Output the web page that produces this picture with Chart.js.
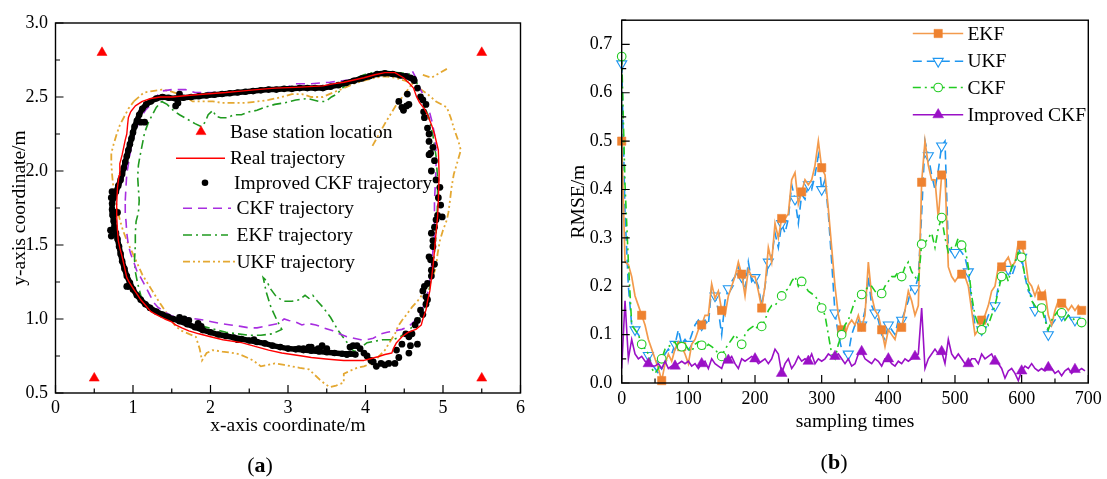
<!DOCTYPE html>
<html>
<head>
<meta charset="utf-8">
<title>Trajectories and RMSE of EKF, UKF, CKF and improved CKF</title>
<script src="https://cdn.jsdelivr.net/npm/chart.js@4.4.1/dist/chart.umd.min.js"></script>
<style>
  html, body { margin: 0; padding: 0; background: #ffffff; }
  #figure { position: relative; width: 1107px; height: 479px; overflow: hidden; background: #ffffff; }
  #panelA { position: absolute; left: 0; top: 0; }
  #panelB { position: absolute; left: 560px; top: 0; }
  .caption { position: absolute; width: 80px; text-align: center; font: 22px "Liberation Serif", serif; line-height: 24px; color: #000; }
</style>
</head>
<body>
<div id="figure">
  <canvas id="panelA" width="560" height="479"></canvas>
  <canvas id="panelB" width="547" height="479"></canvas>
  <div class="caption" style="left:220px; top:453px;">(<b>a</b>)</div>
  <div class="caption" style="left:794px; top:450px;">(<b>b</b>)</div>
</div>
<script>
// ===================== Panel (a): positioning trajectories =====================
const baseStations = [[0.6, 2.8], [5.5, 2.8], [0.5, 0.6], [5.5, 0.6]];

const realTrajectory = [
  [0.97,2.40],[1.03,2.44],[1.12,2.47],[1.23,2.49],[1.35,2.50],[1.50,2.50],[1.70,2.51],[1.94,2.52],
  [2.20,2.53],[2.39,2.54],[2.60,2.55],[2.83,2.56],[3.10,2.565],[3.45,2.575],[3.60,2.59],[3.72,2.60],
  [3.85,2.615],[3.98,2.63],[4.12,2.65],[4.25,2.665],[4.38,2.665],[4.49,2.63],[4.57,2.59],[4.62,2.56],
  [4.66,2.50],[4.70,2.46],[4.76,2.42],[4.80,2.38],[4.86,2.30],[4.89,2.25],[4.94,2.14],[4.95,1.98],
  [4.94,1.80],[4.93,1.69],[4.91,1.58],[4.89,1.46],[4.87,1.35],[4.85,1.27],[4.83,1.19],[4.80,1.12],
  [4.78,1.06],[4.74,1.00],[4.72,0.96],[4.65,0.93],[4.55,0.91],[4.47,0.88],[4.40,0.84],[4.36,0.80],
  [4.34,0.77],[4.25,0.76],[4.16,0.745],[4.05,0.73],[3.98,0.72],[3.85,0.72],[3.72,0.72],[3.60,0.725],
  [3.49,0.73],[3.30,0.74],[3.18,0.75],[3.05,0.76],[2.92,0.77],[2.75,0.79],[2.61,0.81],[2.40,0.84],
  [2.16,0.86],[2.00,0.88],[1.85,0.90],[1.72,0.92],[1.63,0.94],[1.55,0.96],[1.50,0.98],[1.41,1.00],
  [1.30,1.03],[1.23,1.05],[1.15,1.10],[1.10,1.13],[1.05,1.17],[1.01,1.20],[0.96,1.24],[0.92,1.28],
  [0.89,1.35],[0.86,1.42],[0.83,1.48],[0.81,1.53],[0.80,1.60],[0.79,1.69],[0.79,1.78],[0.80,1.89],
  [0.82,1.97],[0.83,2.05],[0.86,2.11],[0.88,2.16],[0.90,2.21],[0.92,2.25],[0.93,2.31],[0.94,2.36],
  [0.97,2.40]
];

// improved CKF estimates: the dense run of positions along the loop
const improvedRun = [
  [3.87,0.76],[3.80,0.765],[3.70,0.765],[3.60,0.77],[3.50,0.775],[3.40,0.78],[3.30,0.785],[3.20,0.79],
  [3.10,0.795],[3.00,0.80],[2.90,0.81],[2.80,0.82],[2.70,0.835],[2.60,0.845],[2.50,0.855],[2.40,0.865],
  [2.30,0.875],[2.20,0.885],[2.10,0.895],[2.00,0.91],[1.90,0.925],[1.80,0.945],[1.70,0.965],[1.60,0.985],
  [1.52,1.00],[1.45,1.015],[1.38,1.03],[1.30,1.05],[1.22,1.075],[1.16,1.10],[1.10,1.13],[1.05,1.16],
  [1.00,1.20],[0.96,1.245],[0.92,1.29],[0.89,1.34],[0.86,1.39],[0.84,1.44],[0.82,1.49],[0.80,1.54],
  [0.78,1.58],[0.76,1.62],[0.75,1.66],[0.74,1.70],[0.73,1.74],[0.73,1.78],[0.75,1.82],[0.78,1.86],
  [0.81,1.90],[0.84,1.94],[0.86,1.98],[0.88,2.02],[0.90,2.06],[0.92,2.10],[0.94,2.14],[0.96,2.18],
  [0.98,2.22],[1.00,2.26],[1.02,2.30],[1.05,2.34],[1.08,2.38],[1.12,2.42],[1.17,2.45],[1.23,2.47],
  [1.30,2.49],[1.38,2.50],[1.46,2.495],[1.55,2.49],[1.65,2.495],[1.75,2.50],[1.85,2.505],[1.95,2.51],
  [2.05,2.515],[2.15,2.52],[2.25,2.525],[2.35,2.53],[2.45,2.535],[2.55,2.54],[2.65,2.545],[2.75,2.55],
  [2.85,2.55],[2.95,2.555],[3.05,2.555],[3.15,2.56],[3.25,2.56],[3.35,2.56],[3.45,2.56],[3.55,2.57],
  [3.65,2.58],[3.75,2.595],[3.85,2.61],[3.95,2.625],[4.05,2.64],[4.15,2.655],[4.25,2.66],[4.35,2.655],
  [4.45,2.645],[4.52,2.64],[4.58,2.63],[4.63,2.61]
];

// improved CKF estimates: scattered positions (right side, corners, outliers)
const improvedScattered = [
  [4.43,2.47],[4.47,2.43],[4.49,2.41],[4.53,2.44],[4.56,2.45],[4.54,2.52],[4.62,2.62],[4.67,2.56],
  [4.71,2.50],[4.74,2.48],[4.78,2.45],[4.75,2.40],[4.76,2.36],[4.80,2.29],[4.82,2.25],[4.82,2.20],
  [4.87,2.16],[4.84,2.12],[4.82,2.11],[4.89,2.07],[4.85,2.00],[4.91,1.94],[4.96,1.89],[4.94,1.82],
  [4.97,1.77],[4.99,1.69],[4.93,1.70],[4.91,1.67],[4.89,1.62],[4.85,1.58],[4.87,1.53],[4.87,1.49],
  [4.82,1.42],[4.84,1.40],[4.89,1.37],[4.85,1.33],[4.85,1.29],[4.80,1.24],[4.76,1.22],[4.74,1.19],
  [4.78,1.15],[4.80,1.13],[4.78,1.10],[4.71,1.06],[4.74,1.03],[4.67,0.99],[4.64,0.96],[4.60,0.90],
  [4.56,0.88],[4.52,0.90],[4.67,0.83],[4.58,0.82],[4.56,0.77],[4.47,0.83],[4.43,0.74],[4.40,0.79],
  [4.38,0.70],[4.30,0.70],[4.25,0.69],[4.20,0.70],[4.14,0.68],[4.10,0.71],[4.07,0.72],[4.02,0.75],
  [3.98,0.77],[3.93,0.80],[3.89,0.82],[3.84,0.82],[3.80,0.81],[3.76,0.76],[3.50,0.80],[3.44,0.82],
  [3.39,0.80],[3.36,0.79],[3.30,0.81],[3.27,0.81],[3.20,0.80],[3.14,0.80],[2.56,0.86],[2.35,0.86],
  [1.88,0.95],[1.84,0.97],[1.72,0.99],[1.66,1.00],[1.60,1.01],[0.92,1.22],[0.95,1.22],[0.77,1.72],
  [0.80,1.72],[1.10,2.33],[1.15,2.33],[1.55,2.44],[1.58,2.46],[1.60,2.52],[0.71,1.60],[0.72,1.56],
  [0.72,1.82],[0.73,1.86]
];

const ckfTrajectory = [
  [0.90,1.80],[0.91,1.90],[0.92,1.98],[0.95,2.08],[0.99,2.20],[1.04,2.28],[1.10,2.36],[1.16,2.41],
  [1.23,2.45],[1.30,2.50],[1.37,2.54],[1.50,2.55],[1.68,2.55],[1.80,2.53],[2.03,2.53],[2.20,2.53],
  [2.39,2.53],[2.60,2.535],[2.83,2.54],[3.00,2.57],[3.10,2.59],[3.30,2.59],[3.54,2.60],[3.70,2.61],
  [3.89,2.62],[4.05,2.64],[4.16,2.65],[4.30,2.65],[4.38,2.64],[4.50,2.64],[4.60,2.68],[4.65,2.63],
  [4.70,2.56],[4.74,2.52],[4.78,2.46],[4.82,2.41],[4.86,2.33],[4.89,2.25],[4.91,2.13],[4.91,2.03],
  [4.90,1.90],[4.89,1.80],[4.89,1.69],[4.89,1.58],[4.87,1.46],[4.85,1.35],[4.83,1.26],[4.80,1.17],
  [4.76,1.10],[4.71,1.04],[4.64,0.99],[4.56,0.95],[4.47,0.93],[4.38,0.92],[4.28,0.91],[4.20,0.90],
  [4.10,0.87],[4.02,0.86],[3.94,0.86],[3.85,0.87],[3.76,0.88],[3.66,0.90],[3.58,0.92],[3.46,0.94],
  [3.36,0.96],[3.26,0.97],[3.18,0.96],[3.10,0.98],[3.01,0.99],[2.95,1.00],[2.88,0.97],[2.78,0.96],
  [2.70,0.95],[2.60,0.94],[2.50,0.94],[2.39,0.95],[2.26,0.96],[2.12,0.97],[2.03,0.98],[1.94,0.99],
  [1.82,1.00],[1.68,1.01],[1.58,1.02],[1.50,1.02],[1.40,1.05],[1.32,1.08],[1.27,1.11],[1.23,1.15],
  [1.18,1.20],[1.14,1.24],[1.10,1.28],[1.06,1.31],[1.02,1.37],[0.97,1.44],[0.94,1.50],[0.92,1.58],
  [0.91,1.66],[0.90,1.71],[0.90,1.80]
];

const ekfTrajectory = [
  [1.37,2.47],[1.44,2.45],[1.52,2.41],[1.60,2.38],[1.70,2.35],[1.80,2.32],[1.88,2.30],[1.93,2.33],
  [1.97,2.38],[2.03,2.41],[2.07,2.37],[2.13,2.36],[2.22,2.36],[2.30,2.38],[2.40,2.38],[2.50,2.40],
  [2.60,2.41],[2.70,2.43],[2.83,2.45],[2.95,2.46],[3.10,2.48],[3.25,2.49],[3.40,2.47],[3.49,2.47],
  [3.56,2.50],[3.63,2.52],[3.72,2.57],[3.85,2.62],[3.98,2.65],[4.10,2.665],[4.25,2.67],[4.40,2.665],
  [4.52,2.66],[4.60,2.65],[4.66,2.60],[4.70,2.52],[4.76,2.44],[4.82,2.36],[4.87,2.24],[4.91,2.10],
  [4.93,1.95],[4.93,1.80],[4.92,1.65],[4.90,1.50],[4.87,1.35],[4.83,1.22],[4.78,1.10],[4.72,1.02],
  [4.65,0.97],[4.55,0.92],[4.45,0.88],[4.35,0.86],[4.22,0.86],[4.12,0.85],[4.02,0.84],[3.92,0.80],
  [3.85,0.78],[3.75,0.85],[3.65,0.92],[3.55,1.01],[3.45,1.08],[3.38,1.12],[3.32,1.16],[3.27,1.14],
  [3.22,1.16],[3.15,1.13],[3.05,1.12],[2.95,1.12],[2.85,1.15],[2.78,1.20],[2.72,1.26],[2.68,1.28],
  [2.72,1.18],[2.78,1.08],[2.85,1.00],[2.92,0.93],[2.80,0.90],[2.65,0.89],[2.50,0.89],[2.35,0.90],
  [2.20,0.91],[2.05,0.93],[1.90,0.95],[1.75,0.97],[1.60,0.98],[1.48,0.99],[1.35,1.02],[1.25,1.05],
  [1.17,1.10],[1.10,1.16],[1.06,1.24],[1.03,1.32],[1.02,1.40],[1.03,1.50],[1.03,1.58],[1.04,1.66],
  [1.07,1.72],[1.08,1.80],[1.07,1.88],[1.06,1.96],[1.07,2.04],[1.09,2.10],[1.12,2.18],[1.15,2.26],
  [1.20,2.33],[1.25,2.38],[1.30,2.43],[1.37,2.47]
];

// null pairs break the path into separate pieces
const ukfTrajectory = [
  [1.01,2.47],[1.14,2.53],[1.25,2.54],[1.37,2.55],[1.48,2.54],[1.59,2.52],[1.68,2.50],[1.77,2.47],
  [1.90,2.47],[2.03,2.47],[2.15,2.46],[2.30,2.46],[2.45,2.46],[2.61,2.47],[2.75,2.48],[2.92,2.50],
  [3.05,2.52],[3.18,2.52],[3.30,2.50],[3.45,2.50],[3.58,2.53],[3.72,2.56],[3.85,2.59],[3.98,2.61],
  [4.12,2.63],[4.25,2.64],[4.38,2.63],[4.51,2.61],[4.60,2.59],[4.69,2.56],[4.80,2.52],[4.91,2.47],
  [5.05,2.43],[5.10,2.36],[5.14,2.29],[5.20,2.20],[5.23,2.14],[5.18,2.05],[5.14,1.98],[5.11,1.89],
  [5.09,1.80],[5.07,1.72],[5.05,1.67],[5.00,1.60],[4.96,1.53],[4.93,1.44],[4.91,1.35],[4.87,1.29],
  [4.82,1.24],[4.74,1.17],[4.67,1.12],[4.60,1.08],[4.53,1.03],[4.47,0.99],[4.42,0.95],[4.38,0.90],
  [4.32,0.85],[4.25,0.79],[4.16,0.74],[4.07,0.70],[3.98,0.68],[3.89,0.67],[3.80,0.65],[3.72,0.63],
  [3.72,0.57],[3.62,0.55],[3.54,0.54],[3.48,0.56],[3.41,0.59],[3.35,0.62],[3.27,0.66],[3.15,0.67],
  [3.05,0.68],[2.95,0.69],[2.83,0.70],[2.74,0.69],[2.65,0.68],[2.55,0.72],[2.47,0.74],[2.38,0.76],
  [2.30,0.77],[2.15,0.78],[2.03,0.79],[1.95,0.77],[1.89,0.72],[1.86,0.80],[1.81,0.88],[1.72,0.90],
  [1.63,0.92],[1.55,0.95],[1.50,0.99],[1.42,1.05],[1.32,1.13],[1.25,1.19],[1.19,1.24],[1.12,1.30],
  [1.06,1.37],[0.99,1.45],[0.92,1.53],[0.87,1.60],[0.83,1.67],[0.79,1.76],[0.76,1.85],[0.74,1.92],
  [0.73,1.98],[0.72,2.05],[0.72,2.12],[0.75,2.18],[0.79,2.25],[0.83,2.31],[0.88,2.36],[0.94,2.42],
  [1.01,2.47],
  [null,null],[4.09,2.17],[4.25,2.32],[4.40,2.45],[4.52,2.53],[4.60,2.59],
  [null,null],[4.74,2.65],[4.85,2.63],[4.95,2.66],[5.05,2.69]
];

const aXTicks = [0, 1, 2, 3, 4, 5, 6];
const aYTicks = [0.5, 1.0, 1.5, 2.0, 2.5, 3.0];

// ===================== Panel (b): RMSE over sampling times =====================
const samplingTimes = [
  0,5,10,15,20,25,30,35,40,45,50,55,60,65,70,75,80,85,90,95,
  100,105,110,115,120,125,130,135,140,145,150,155,160,165,170,175,180,185,190,195,
  200,205,210,215,220,225,230,235,240,245,250,255,260,265,270,275,280,285,290,295,
  300,305,310,315,320,325,330,335,340,345,350,355,360,365,370,375,380,385,390,395,
  400,405,410,415,420,425,430,435,440,445,450,455,460,465,470,475,480,485,490,495,
  500,505,510,515,520,525,530,535,540,545,550,555,560,565,570,575,580,585,590,595,
  600,605,610,615,620,625,630,635,640,645,650,655,660,665,670,675,680,685,690,695
];

const rmseEKF = [
  0.50,0.25,0.245,0.22,0.18,0.16,0.14,0.12,0.09,0.07,0.05,0.03,0.005,0.04,0.06,0.045,0.07,0.085,0.075,0.06,
  0.04,0.08,0.09,0.11,0.12,0.14,0.14,0.205,0.175,0.19,0.15,0.14,0.18,0.20,0.22,0.25,0.225,0.18,0.235,0.22,
  0.22,0.19,0.155,0.20,0.28,0.25,0.33,0.30,0.34,0.34,0.35,0.42,0.435,0.37,0.395,0.42,0.41,0.42,0.45,0.50,
  0.445,0.43,0.36,0.28,0.20,0.14,0.11,0.10,0.12,0.13,0.12,0.14,0.115,0.14,0.25,0.18,0.15,0.14,0.11,0.075,
  0.11,0.10,0.09,0.12,0.115,0.15,0.19,0.17,0.14,0.16,0.415,0.50,0.45,0.42,0.42,0.34,0.43,0.43,0.24,0.22,
  0.21,0.22,0.225,0.22,0.20,0.15,0.10,0.11,0.13,0.14,0.16,0.19,0.20,0.24,0.24,0.25,0.26,0.24,0.25,0.29,
  0.285,0.26,0.21,0.20,0.18,0.20,0.18,0.19,0.14,0.12,0.15,0.17,0.165,0.16,0.15,0.16,0.15,0.16,0.15,0.155
];

const rmseUKF = [
  0.66,0.35,0.20,0.12,0.11,0.10,0.09,0.07,0.057,0.04,0.03,0.02,0.04,0.06,0.07,0.06,0.08,0.11,0.08,0.09,
  0.08,0.10,0.12,0.13,0.12,0.13,0.12,0.20,0.18,0.15,0.10,0.17,0.195,0.21,0.22,0.24,0.22,0.19,0.25,0.21,
  0.218,0.20,0.16,0.20,0.25,0.26,0.31,0.28,0.33,0.31,0.34,0.41,0.38,0.33,0.39,0.38,0.41,0.40,0.43,0.47,
  0.40,0.42,0.35,0.25,0.145,0.10,0.07,0.06,0.06,0.10,0.12,0.13,0.12,0.15,0.22,0.16,0.145,0.13,0.10,0.09,
  0.12,0.11,0.10,0.13,0.13,0.15,0.17,0.20,0.195,0.22,0.35,0.50,0.47,0.43,0.40,0.44,0.49,0.50,0.28,0.27,
  0.27,0.28,0.27,0.26,0.23,0.17,0.12,0.11,0.11,0.12,0.14,0.15,0.16,0.20,0.22,0.23,0.235,0.22,0.24,0.28,
  0.26,0.22,0.19,0.18,0.15,0.16,0.16,0.14,0.10,0.12,0.13,0.14,0.14,0.13,0.14,0.13,0.13,0.125,0.12,0.12
];

const rmseCKF = [
  0.675,0.41,0.25,0.12,0.11,0.10,0.08,0.07,0.06,0.03,0.02,0.03,0.05,0.07,0.075,0.08,0.085,0.07,0.075,0.08,
  0.07,0.065,0.08,0.085,0.078,0.07,0.08,0.075,0.07,0.06,0.055,0.07,0.08,0.09,0.10,0.09,0.08,0.10,0.11,0.115,
  0.12,0.11,0.117,0.13,0.15,0.16,0.16,0.17,0.18,0.19,0.195,0.21,0.22,0.20,0.21,0.20,0.19,0.185,0.18,0.17,
  0.155,0.14,0.10,0.06,0.05,0.08,0.10,0.12,0.13,0.15,0.17,0.18,0.183,0.19,0.20,0.20,0.19,0.18,0.185,0.20,
  0.21,0.22,0.22,0.23,0.22,0.24,0.25,0.23,0.22,0.21,0.287,0.29,0.30,0.31,0.28,0.32,0.342,0.30,0.27,0.28,
  0.28,0.30,0.285,0.28,0.24,0.18,0.14,0.12,0.11,0.13,0.12,0.14,0.16,0.19,0.22,0.23,0.21,0.24,0.25,0.27,
  0.26,0.22,0.20,0.17,0.16,0.15,0.155,0.13,0.11,0.13,0.14,0.15,0.145,0.13,0.14,0.135,0.13,0.125,0.125,0.12
];

const rmseImprovedCKF = [
  0.03,0.17,0.05,0.09,0.06,0.05,0.055,0.045,0.04,0.035,0.035,0.04,0.03,0.045,0.03,0.035,0.035,0.04,0.045,0.04,
  0.045,0.035,0.04,0.03,0.04,0.045,0.03,0.05,0.04,0.035,0.03,0.05,0.047,0.055,0.04,0.03,0.05,0.045,0.05,0.055,
  0.05,0.04,0.045,0.05,0.04,0.05,0.07,0.06,0.02,0.04,0.05,0.03,0.04,0.055,0.045,0.05,0.045,0.06,0.04,0.05,
  0.045,0.05,0.06,0.055,0.055,0.06,0.05,0.04,0.05,0.035,0.04,0.06,0.065,0.05,0.045,0.04,0.05,0.045,0.035,0.05,
  0.05,0.04,0.035,0.045,0.04,0.05,0.045,0.05,0.055,0.06,0.155,0.03,0.05,0.06,0.07,0.06,0.065,0.04,0.09,0.06,
  0.05,0.06,0.05,0.04,0.04,0.05,0.05,0.04,0.06,0.05,0.055,0.06,0.045,0.04,0.03,0.01,0.025,0.03,0.02,0.005,
  0.025,0.035,0.03,0.04,0.03,0.025,0.03,0.025,0.032,0.03,0.02,0.025,0.015,0.025,0.03,0.02,0.028,0.025,0.03,0.025
];

const bXTicks = [0, 100, 200, 300, 400, 500, 600, 700];
const bYTicks = [0.0, 0.1, 0.2, 0.3, 0.4, 0.5, 0.6, 0.7];

// ===================== shared helpers =====================
const SERIF = '"Liberation Serif", "Times New Roman", serif';
const tickFont = { family: SERIF, size: 18 };
const titleFont = { family: SERIF, size: 19.5 };

const toXY = arr => arr.map(p => ({ x: p[0], y: p[1] }));

// major ticks plus a minor tick halfway between neighbours
function tickList(majors, max) {
  const out = [];
  majors.forEach((v, i) => {
    out.push({ value: v });
    const next = i + 1 < majors.length ? majors[i + 1] : v + (v - majors[i - 1]);
    const mid = v + (next - v) / 2;
    if (mid <= max + 1e-9) out.push({ value: mid });
  });
  return out;
}

function markerPath(ctx, style, x, y, r, rotation) {
  ctx.beginPath();
  if (style === 'circle') {
    ctx.arc(x, y, r, 0, Math.PI * 2);
  } else if (style === 'rect') {
    const s = r * Math.SQRT1_2;
    ctx.rect(x - s, y - s, 2 * s, 2 * s);
  } else if (style === 'triangle') {
    let a = (rotation || 0) * Math.PI / 180;
    ctx.moveTo(x + Math.sin(a) * r, y - Math.cos(a) * r);
    a += 2 * Math.PI / 3;
    ctx.lineTo(x + Math.sin(a) * r, y - Math.cos(a) * r);
    a += 2 * Math.PI / 3;
    ctx.lineTo(x + Math.sin(a) * r, y - Math.cos(a) * r);
  }
  ctx.closePath();
}

// box frame with inward major/minor tick marks
const frameTicks = {
  id: 'frameTicks',
  afterDatasetsDraw(chart, args, opts) {
    const { ctx, chartArea: a } = chart;
    const xs = chart.scales.x, ys = chart.scales.y;
    ctx.save();
    ctx.strokeStyle = '#000';
    ctx.setLineDash([]);
    ctx.lineWidth = 1.2;
    ctx.beginPath();
    xs.ticks.forEach(t => {
      const p = xs.getPixelForValue(t.value);
      const len = t.label !== '' ? opts.major : opts.minor;
      ctx.moveTo(p, a.bottom); ctx.lineTo(p, a.bottom - len);
    });
    ys.ticks.forEach(t => {
      const p = ys.getPixelForValue(t.value);
      const len = t.label !== '' ? opts.major : opts.minor;
      ctx.moveTo(a.left, p); ctx.lineTo(a.left + len, p);
    });
    ctx.stroke();
    ctx.lineWidth = 1.4;
    ctx.strokeRect(a.left, a.top, a.right - a.left, a.bottom - a.top);
    ctx.restore();
  }
};

// legend drawn inside the plotting box
const boxLegend = {
  id: 'boxLegend',
  afterDraw(chart, args, opts) {
    const ctx = chart.ctx;
    ctx.save();
    opts.items.forEach(it => {
      if (it.line) {
        ctx.save();
        ctx.strokeStyle = it.color;
        ctx.lineWidth = it.width;
        ctx.setLineDash(it.dash || []);
        ctx.beginPath();
        ctx.moveTo(it.line[0], it.y);
        ctx.lineTo(it.line[1], it.y);
        ctx.stroke();
        ctx.restore();
      }
      if (it.marker) {
        ctx.save();
        ctx.setLineDash([]);
        ctx.fillStyle = it.marker.fill;
        ctx.strokeStyle = it.marker.stroke;
        ctx.lineWidth = it.marker.border;
        markerPath(ctx, it.marker.style, it.marker.x, it.y, it.marker.r, it.marker.rotation);
        ctx.fill();
        if (it.marker.border > 0) ctx.stroke();
        ctx.restore();
      }
      ctx.fillStyle = '#000';
      ctx.font = opts.fontSize + 'px ' + SERIF;
      ctx.textAlign = 'left';
      ctx.textBaseline = 'middle';
      ctx.fillText(it.text, it.textX, it.y + 1);
    });
    ctx.restore();
  }
};

function axisOptions(min, max, majors, fmt, fitSize, isX, tickPad, titleText, titlePad) {
  return {
    type: 'linear',
    min: min,
    max: max,
    afterBuildTicks: s => { s.ticks = tickList(majors, max); },
    afterFit: s => { if (isX) s.height = fitSize; else s.width = fitSize; },
    grid: { display: false, drawTicks: false },
    border: { display: false },
    ticks: {
      autoSkip: false, maxRotation: 0, minRotation: 0,
      padding: tickPad, color: '#000', font: tickFont,
      callback: v => (majors.includes(v) ? fmt(v) : '')
    },
    title: { display: true, text: titleText, color: '#000', font: titleFont, padding: titlePad }
  };
}

// ===================== Panel (a) chart =====================
const cRed = '#ff0000', cPurple = '#a82ee0', cGreen = '#1f9a1f', cGold = '#e4a832';

new Chart(document.getElementById('panelA'), {
  type: 'scatter',
  data: {
    datasets: [
      { label: 'Base station location', data: toXY(baseStations), order: 0,
        pointStyle: 'triangle', pointRadius: 5.8, pointBackgroundColor: cRed, pointBorderColor: cRed,
        pointBorderWidth: 0.5, showLine: false },
      { label: 'Real trajectory', data: toXY(realTrajectory), order: 1, showLine: true,
        borderColor: cRed, borderWidth: 1.4, pointRadius: 0, borderJoinStyle: 'round' },
      { label: 'Improved CKF trajectory', data: toXY(improvedRun), order: 2, showLine: true,
        borderColor: '#000', borderWidth: 5.5, borderJoinStyle: 'round', borderCapStyle: 'round',
        pointRadius: 3.3, pointBackgroundColor: '#000', pointBorderColor: '#000', pointBorderWidth: 0 },
      { label: 'Improved CKF trajectory', data: toXY(improvedScattered), order: 2, showLine: false,
        pointRadius: 3.4, pointBackgroundColor: '#000', pointBorderColor: '#000', pointBorderWidth: 0 },
      { label: 'CKF trajectory', data: toXY(ckfTrajectory), order: 3, showLine: true,
        borderColor: cPurple, borderWidth: 1.6, borderDash: [9, 6], pointRadius: 0 },
      { label: 'EKF trajectory', data: toXY(ekfTrajectory), order: 4, showLine: true,
        borderColor: cGreen, borderWidth: 1.6, borderDash: [9, 4, 2, 4], pointRadius: 0 },
      { label: 'UKF trajectory', data: toXY(ukfTrajectory), order: 5, showLine: true, spanGaps: false,
        borderColor: cGold, borderWidth: 1.8, borderDash: [7, 3, 2, 3, 2, 3], pointRadius: 0 }
    ]
  },
  options: {
    animation: false, responsive: false, events: [],
    layout: { padding: { left: 0, top: 23, right: 39.5, bottom: 0 } },
    scales: {
      x: axisOptions(0, 6, aXTicks, v => String(v), 86, true, 4.2, 'x-axis coordinate/m', { top: 0, bottom: 41.3 }),
      y: axisOptions(0.5, 3.0, aYTicks, v => v.toFixed(1), 55.5, false, 7.5, 'y-axis coordinate/m', { top: 8.1, bottom: 0 })
    },
    plugins: {
      legend: { display: false },
      tooltip: { enabled: false },
      frameTicks: { major: 8, minor: 4.5 },
      boxLegend: {
        fontSize: 19.5,
        items: [
          { text: 'Base station location', y: 131.7, textX: 230,
            marker: { style: 'triangle', x: 201, r: 5.8, fill: cRed, stroke: cRed, border: 0.5 } },
          { text: 'Real trajectory', y: 158.3, textX: 230, line: [176, 225], color: cRed, width: 1.4 },
          { text: 'Improved CKF trajectory', y: 182.7, textX: 234,
            marker: { style: 'circle', x: 205, r: 3.3, fill: '#000', stroke: '#000', border: 0 } },
          { text: 'CKF trajectory', y: 208.3, textX: 236.5, line: [183, 231], color: cPurple, width: 1.6, dash: [9, 6] },
          { text: 'EKF trajectory', y: 235, textX: 236.5, line: [183, 228], color: cGreen, width: 1.6, dash: [9, 4, 2, 4] },
          { text: 'UKF trajectory', y: 261.7, textX: 236.5, line: [183, 235], color: cGold, width: 1.8, dash: [7, 3, 2, 3, 2, 3] }
        ]
      }
    }
  },
  plugins: [frameTicks, boxLegend]
});

// ===================== Panel (b) chart =====================
const cEkfLine = '#f39a4c', cEkfMark = '#ee8230', cBlue = '#1e96f0', cLime = '#22cc22', cViolet = '#9a10c6';
const series = values => samplingTimes.map((t, i) => ({ x: t, y: values[i] }));
const every = (n, r, skipFirst) => ctx => (ctx.dataIndex % n === 0 && !(skipFirst && ctx.dataIndex === 0) ? r : 0);

new Chart(document.getElementById('panelB'), {
  type: 'line',
  data: {
    datasets: [
      { label: 'Improved CKF', data: series(rmseImprovedCKF), order: 0, clip: false,
        borderColor: cViolet, borderWidth: 1.6, tension: 0,
        pointStyle: 'triangle', pointRadius: every(8, 6.2, true),
        pointBackgroundColor: cViolet, pointBorderColor: cViolet, pointBorderWidth: 0.5 },
      { label: 'CKF', data: series(rmseCKF), order: 1, clip: false,
        borderColor: cLime, borderWidth: 1.6, borderDash: [8, 4, 2, 4], tension: 0,
        pointStyle: 'circle', pointRadius: every(6, 4.3),
        pointBackgroundColor: '#ffffff', pointBorderColor: cLime, pointBorderWidth: 1.1 },
      { label: 'EKF', data: series(rmseEKF), order: 2, clip: false,
        borderColor: cEkfLine, borderWidth: 1.7, tension: 0,
        pointStyle: 'rect', pointRadius: every(6, 5.9),
        pointBackgroundColor: cEkfMark, pointBorderColor: cEkfMark, pointBorderWidth: 0.5 },
      { label: 'UKF', data: series(rmseUKF), order: 3, clip: false,
        borderColor: cBlue, borderWidth: 1.6, borderDash: [9, 5], tension: 0,
        pointStyle: 'triangle', pointRotation: 180, pointRadius: every(4, 5.8),
        pointBackgroundColor: '#ffffff', pointBorderColor: cBlue, pointBorderWidth: 1.1 }
    ]
  },
  options: {
    animation: false, responsive: false, events: [],
    layout: { padding: { left: 0, top: 14, right: 17, bottom: 0 } },
    scales: {
      x: axisOptions(0, 700, bXTicks, v => String(v), 96, true, 5.2, 'sampling times', { top: 0, bottom: 45.6 }),
      y: axisOptions(0, 0.75, bYTicks, v => v.toFixed(1), 61.7, false, 9.4, 'RMSE/m', { top: 7.6, bottom: 0 })
    },
    plugins: {
      legend: { display: false },
      tooltip: { enabled: false },
      frameTicks: { major: 8, minor: 4.5 },
      boxLegend: {
        fontSize: 19.5,
        items: [
          { text: 'EKF', y: 33.5, textX: 407.4, line: [352.8, 403.2], color: cEkfLine, width: 1.7,
            marker: { style: 'rect', x: 378.2, r: 5.9, fill: cEkfMark, stroke: cEkfMark, border: 0.5 } },
          { text: 'UKF', y: 61.3, textX: 407.4, line: [352.8, 403.2], color: cBlue, width: 1.6, dash: [9, 5],
            marker: { style: 'triangle', x: 378.2, r: 5.8, rotation: 180, fill: '#ffffff', stroke: cBlue, border: 1.1 } },
          { text: 'CKF', y: 87.5, textX: 407.4, line: [352.8, 403.2], color: cLime, width: 1.6, dash: [8, 4, 2, 4],
            marker: { style: 'circle', x: 378.2, r: 4.3, fill: '#ffffff', stroke: cLime, border: 1.1 } },
          { text: 'Improved CKF', y: 114.7, textX: 407.4, line: [352.8, 403.2], color: cViolet, width: 1.6,
            marker: { style: 'triangle', x: 378.2, r: 6.2, fill: cViolet, stroke: cViolet, border: 0.5 } }
        ]
      }
    }
  },
  plugins: [frameTicks, boxLegend]
});
</script>
</body>
</html>
